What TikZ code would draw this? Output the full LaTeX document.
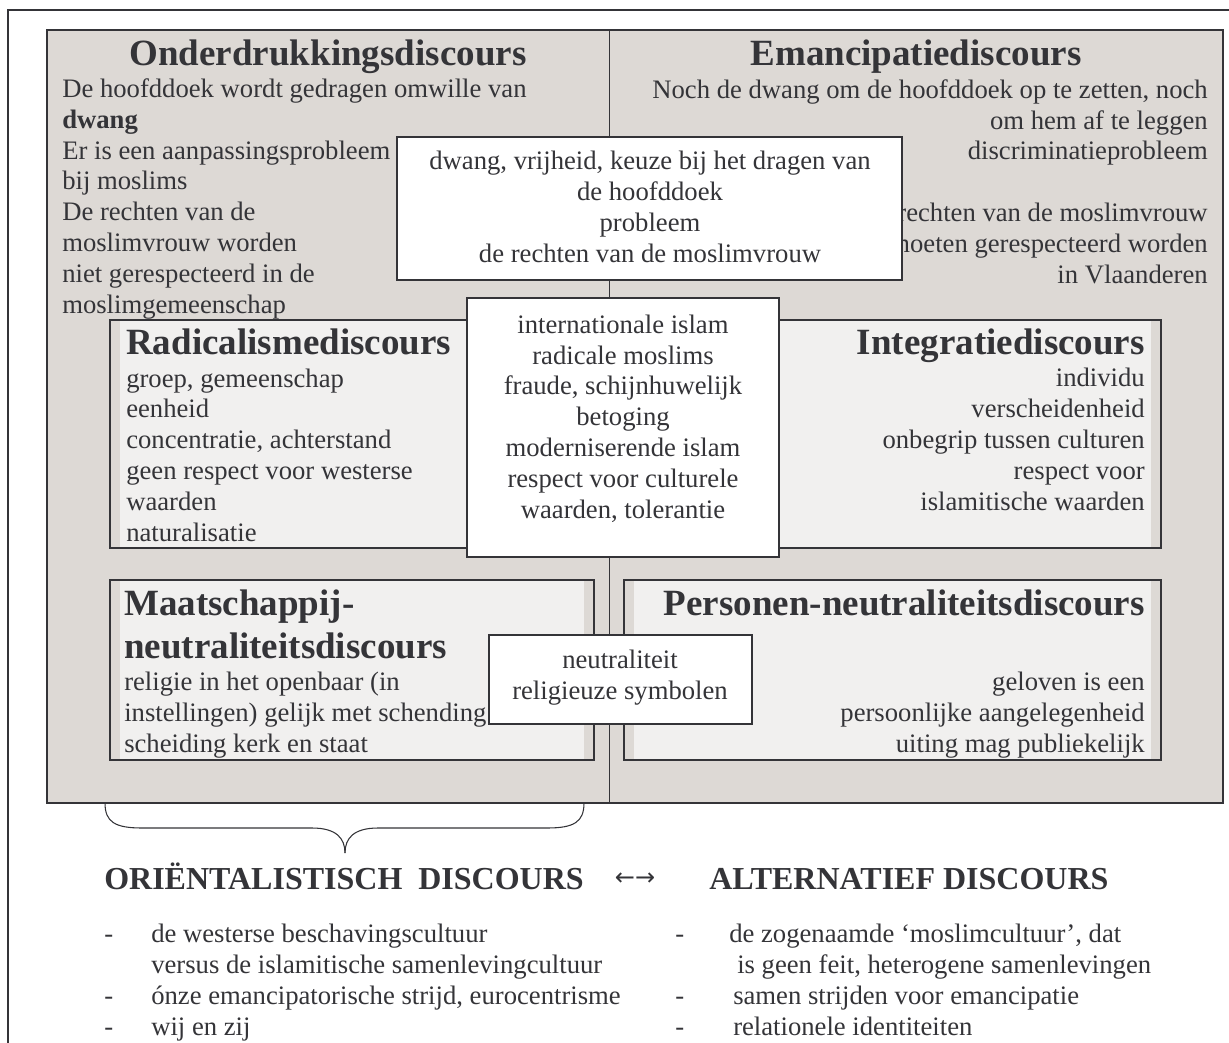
\documentclass[tikz,border=0pt]{standalone}
\usepackage{fontspec}
\setmainfont{Liberation Serif}
\newfontfamily\pijlfont{DejaVu Sans}
\usetikzlibrary{calc}

\definecolor{inkt}{RGB}{52,52,56}
\definecolor{paneel}{RGB}{221,217,213}
\definecolor{licht}{RGB}{241,240,239}

\newcommand\tekstfont{\fontsize{20}{23.1}\selectfont}
\newcommand\titelfont{\fontsize{27.75}{32.25}\selectfont\bfseries}
\newcommand\kopfont{\fontsize{24}{28}\selectfont\bfseries}

\tikzset{
  rand/.style={draw=inkt, line width=1.5pt},
  tekst/.style={font=\tekstfont, text=inkt, inner sep=0pt},
  titel/.style={font=\titelfont, text=inkt, inner sep=0pt},
  kop/.style={font=\kopfont, text=inkt, inner sep=0pt},
}

\begin{document}
\begin{tikzpicture}[x=0.75pt, y=-0.75pt]
    \useasboundingbox (0,0) rectangle (1229,1043);
    \clip (0,0) rectangle (1229,1043);

    \coordinate (lb) at (47,30);
    \coordinate (rb) at (1223,803);
    \coordinate (midtop) at (609,30);
    \coordinate (midbot) at (609,803);

    % outer frame
    \draw[rand] (8,10) rectangle (1300,1100);

    % two grey panels (multi-line nodes sit on the baseline of their last line)
    \fill[paneel] (lb) rectangle (rb);
    \draw[inkt, line width=0.75pt] (midtop) -- (midbot);
    \draw[rand] (lb) rectangle (rb);

    \node[titel, anchor=base] (onder) at (328,65) {Onderdrukkingsdiscours};
    \node[tekst, anchor=base west, align=left] (ondertekst) at (62,313)
        {De hoofddoek wordt gedragen omwille van\\\textbf{dwang}\\Er is een aanpassingsprobleem\\bij moslims\\De rechten van de\\moslimvrouw worden\\niet gerespecteerd in de\\moslimgemeenschap};

    \node[titel, anchor=base] (eman) at (916,65) {Emancipatiediscours};
    \node[tekst, anchor=base east, align=right] (emantekst) at (1208,283)
        {Noch de dwang om de hoofddoek op te zetten, noch\\om hem af te leggen\\discriminatieprobleem\\\mbox{}\\De rechten van de moslimvrouw\\moeten gerespecteerd worden\\in Vlaanderen};

    % shared themes, top
    \filldraw[rand, fill=white] (397,137) rectangle (902,280);
    \node[tekst, anchor=base, align=center] (kern) at (650,262)
        {dwang, vrijheid, keuze bij het dragen van\\de hoofddoek\\probleem\\de rechten van de moslimvrouw};

    % inner boxes
    \fill[licht] (120,320) rectangle (560,548);
    \draw[rand] (110,320) rectangle (570,548);
    \node[titel, anchor=base west] (radic) at (126,354) {Radicalismediscours};
    \node[tekst, anchor=base west, align=left] (radictekst) at (126,541)
        {groep, gemeenschap\\eenheid\\concentratie, achterstand\\geen respect voor westerse\\waarden\\naturalisatie};

    \fill[licht] (670,320) rectangle (1151,548);
    \draw[rand] (660,320) rectangle (1161,548);
    \node[titel, anchor=base east] (integ) at (1145,354) {Integratiediscours};
    \node[tekst, anchor=base east, align=right] (integtekst) at (1145,510)
        {individu\\verscheidenheid\\onbegrip tussen culturen\\respect voor\\islamitische waarden};

    \fill[licht] (120,580) rectangle (584,760);
    \draw[rand] (110,580) rectangle (594,760);
    \node[titel, anchor=base west, align=left] (maat) at (124,658) {Maatschappij-\\neutraliteitsdiscours};
    \node[tekst, anchor=base west, align=left] (maattekst) at (124,752)
        {religie in het openbaar (in\\instellingen) gelijk met schending\\scheiding kerk en staat};

    \fill[licht] (634,580) rectangle (1151,760);
    \draw[rand] (624,580) rectangle (1161,760);
    \node[titel, anchor=base east] (pers) at (1145,615) {Personen-neutraliteitsdiscours};
    \node[tekst, anchor=base east, align=right] (perstekst) at (1145,752)
        {geloven is een\\persoonlijke aangelegenheid\\uiting mag publiekelijk};

    % shared themes, middle and bottom
    \filldraw[rand, fill=white] (467,298) rectangle (779,557);
    \node[tekst, anchor=base, align=center] (midden) at (623,518)
        {internationale islam\\radicale moslims\\fraude, schijnhuwelijk\\betoging\\moderniserende islam\\respect voor culturele\\waarden, tolerantie};

    \filldraw[rand, fill=white] (489,635) rectangle (752,724);
    \node[tekst, anchor=base, align=center] (neutr) at (620,699)
        {neutraliteit\\religieuze symbolen};

    % brace under the left panel
    \coordinate (bl) at (105,803);
    \coordinate (br) at (584,803);
    \coordinate (tip) at (345,853);
    \draw[inkt, line width=0.8pt] (bl) .. controls (105,822) and (115,828) .. (142,828) -- (312,828)
        .. controls (336,828) and (345,838) .. (tip);
    \draw[inkt, line width=0.8pt] (br) .. controls (584,822) and (574,828) .. (547,828) -- (378,828)
        .. controls (354,828) and (345,838) .. (tip);

    % the two discourses
    \node[kop, anchor=base west] (orient) at (104,889) {ORIËNTALISTISCH\ \ DISCOURS};
    \node[font=\pijlfont\fontsize{18}{22}\selectfont, text=inkt, inner sep=0pt] (pijl) at (635,879) {←→};
    \node[kop, anchor=base west] (alter) at (709,889) {ALTERNATIEF DISCOURS};

    \node[tekst, anchor=base west, align=left] (streepl) at (104,1035) {-\\\mbox{}\\-\\-};
    \node[tekst, anchor=base west, align=left] (orienttekst) at (151,1035)
        {de westerse beschavingscultuur\\versus de islamitische samenlevingcultuur\\ónze emancipatorische strijd, eurocentrisme\\wij en zij};
    \node[tekst, anchor=base west, align=left] (streepr) at (675,1035) {-\\\mbox{}\\-\\-};
    \node[tekst, anchor=base west, align=left] (altertekst) at (729,1035)
        {de zogenaamde ‘moslimcultuur’, dat\\\hspace*{6pt}is geen feit, heterogene samenlevingen\\\hspace*{3pt}samen strijden voor emancipatie\\\hspace*{3pt}relationele identiteiten};
\end{tikzpicture}
\end{document}
